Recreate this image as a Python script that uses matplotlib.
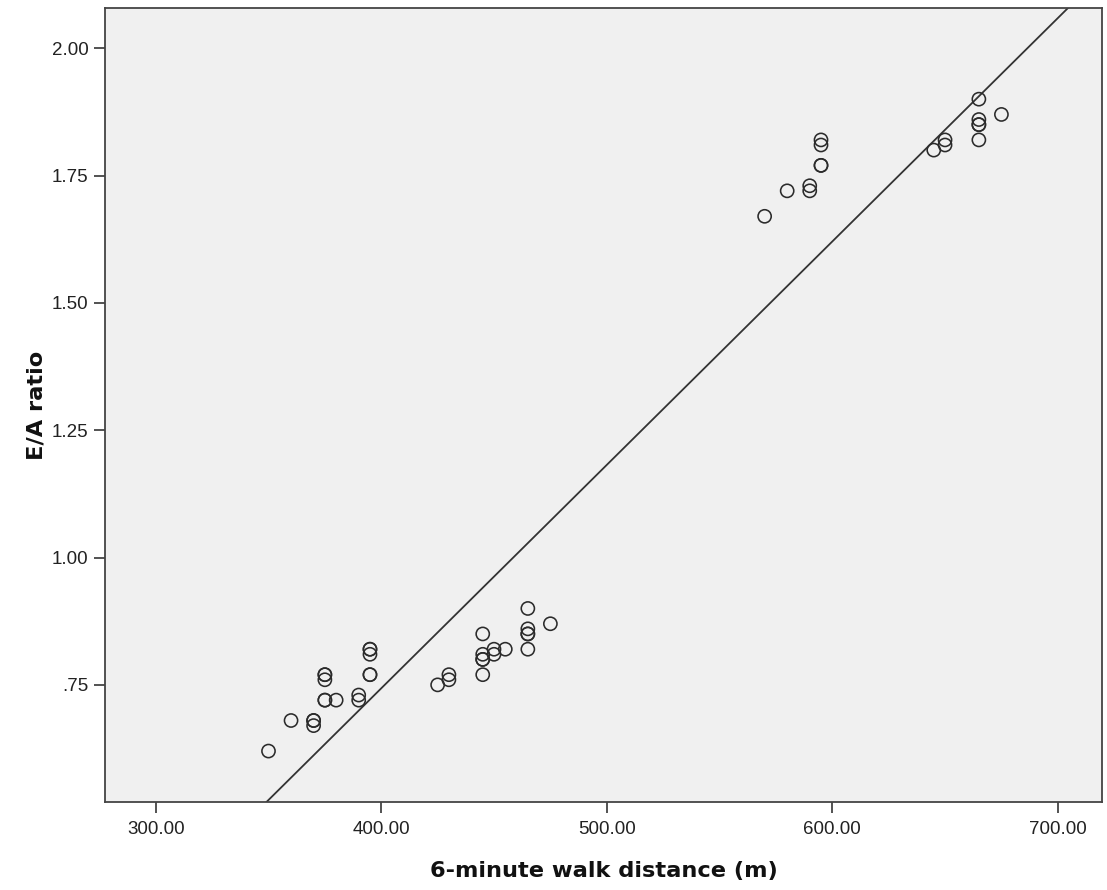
import numpy as np
import matplotlib
matplotlib.use("Agg")
import matplotlib.pyplot as plt

# Data
walk_distance = [
    350, 360, 370, 370, 370, 375, 375, 375, 375, 375, 380, 390, 390,
    395, 395, 395, 395, 395, 425, 430, 430, 445, 445, 445, 445, 445,
    450, 450, 455, 465, 465, 465, 465, 465, 475,
    570, 580, 590, 590, 595, 595, 595, 595, 645, 650, 650,
    665, 665, 665, 665, 665, 675,
]
ea_ratio = [
    0.62, 0.68, 0.68, 0.68, 0.67, 0.77, 0.76, 0.77, 0.72, 0.72, 0.72, 0.73, 0.72,
    0.82, 0.81, 0.82, 0.77, 0.77, 0.75, 0.77, 0.76, 0.85, 0.81, 0.80, 0.80, 0.77,
    0.82, 0.81, 0.82, 0.90, 0.86, 0.85, 0.85, 0.82, 0.87,
    1.67, 1.72, 1.73, 1.72, 1.82, 1.81, 1.77, 1.77, 1.80, 1.82, 1.81,
    1.90, 1.86, 1.85, 1.85, 1.82, 1.87,
]
x_ticks = [300, 400, 500, 600, 700]
x_tick_labels = ["300.00", "400.00", "500.00", "600.00", "700.00"]
y_ticks = [0.75, 1.00, 1.25, 1.50, 1.75, 2.00]
y_tick_labels = [".75", "1.00", "1.25", "1.50", "1.75", "2.00"]

W, H = 1107, 890
fig = plt.figure(figsize=(W / 100, H / 100), dpi=100)
ax = fig.add_axes([105 / W, 1 - 802 / H, (1102 - 105) / W, (802 - 8) / H])
ax.set_facecolor("#f0f0f0")

x = np.array(walk_distance, dtype=float)
y = np.array(ea_ratio, dtype=float)
ax.scatter(x, y, s=90, facecolors="none", edgecolors="#2b2b2b", linewidths=1.15, zorder=3)

xlim = (277.5, 719.6)
ylim = (0.520, 2.079)
slope, intercept = np.polyfit(x, y, 1)
xx = np.array(xlim)
ax.plot(xx, intercept + slope * xx, color="#333333", lw=1.3, zorder=2)

ax.set_xlim(*xlim)
ax.set_ylim(*ylim)
ax.set_xticks(x_ticks)
ax.set_xticklabels(x_tick_labels)
ax.set_yticks(y_ticks)
ax.set_yticklabels(y_tick_labels)

for sp in ax.spines.values():
    sp.set_color("#444444")
    sp.set_linewidth(1.3)
ax.tick_params(axis="both", direction="out", length=8, width=1.3, color="#444444",
               labelsize=13.5, labelcolor="#222222")
ax.tick_params(axis="x", pad=6)
ax.tick_params(axis="y", pad=4)
for lab in ax.get_xticklabels() + ax.get_yticklabels():
    lab.set_family("Liberation Sans")

ax.set_xlabel("6-minute walk distance (m)", fontsize=16.2, fontweight="bold",
              family="DejaVu Sans", color="#111111", labelpad=16)
ax.set_ylabel("E/A ratio", fontsize=16.2, fontweight="bold",
              family="DejaVu Sans", color="#111111", labelpad=4)

fig.savefig("out.png", dpi=100)
